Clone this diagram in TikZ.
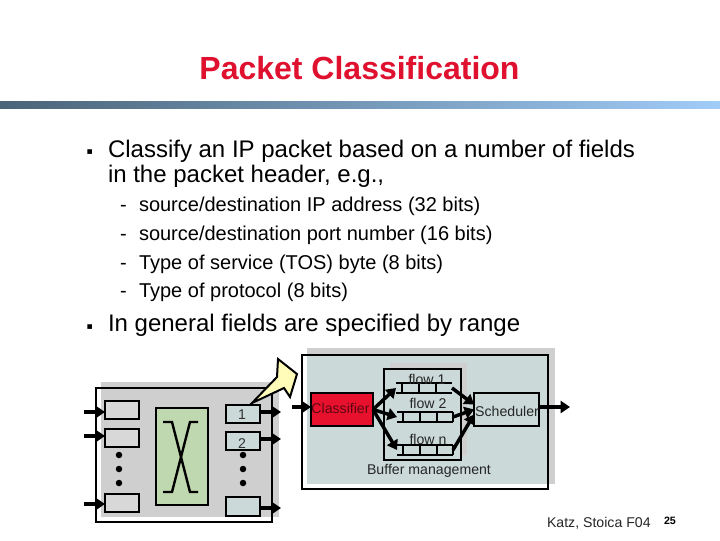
\documentclass[tikz,border=0pt]{standalone}
\usepackage{fontspec}
\setmainfont{Liberation Sans}
\newfontfamily\symfont{DejaVu Sans}
\usetikzlibrary{arrows.meta,calc}
\definecolor{titlered}{HTML}{E0102F}
\definecolor{shadowgray}{HTML}{CFCFCF}
\definecolor{tint}{HTML}{CBD9D9}
\definecolor{swgreen}{HTML}{C0D8B0}
\definecolor{inq}{HTML}{D8D8D8}
\definecolor{clred}{HTML}{E8112D}
\definecolor{barL}{HTML}{4A6478}
\definecolor{barR}{HTML}{A0CCF8}
\def\PX{0.75pt}
\tikzset{
  x=0.75pt,y=-0.75pt,
  txt/.style={anchor=base west,inner sep=0,outer sep=0},
  body/.style={txt,font=\fontsize{18}{18}\selectfont},
  sub/.style={txt,font=\fontsize{15}{15}\selectfont},
  small/.style={inner sep=0,outer sep=0,font=\fontsize{10.6}{10.6}\selectfont,text=black!85},
  bx/.style={draw=black,line width=1.7pt,inner sep=0,outer sep=0},
  qslot/.style={inner sep=0,outer sep=0,minimum width=56*\PX,minimum height=10*\PX},
  qline/.style={draw=black,line width=1.4pt},
  fat/.style={draw=black,line width=2.6pt,-{Triangle[length=7pt,width=9pt]}},
  dot/.style={circle,fill=black,inner sep=0,outer sep=0,minimum size=6.5*\PX},
  xline/.style={draw=black,line width=1.8pt},
  bul/.style={txt,font=\symfont\fontsize{7}{7}\selectfont}
}
\begin{document}
\begin{tikzpicture}
\useasboundingbox (0,0) rectangle (720,540);
\fill[white] (0,0) rectangle (720,540);
% title and bar
\node[inner sep=0,outer sep=0,anchor=base,text=titlered,font=\fontsize{24}{24}\selectfont\bfseries] (title) at (359.5,79) {Packet Classification};
\shade[left color=barL,right color=barR] (0,101) rectangle (720,108);
% bullets
\node[bul] (b1) at (86.5,154) {▪};
\node[bul] (b2) at (86.5,329) {▪};
\node[body] (t1) at (108,157) {Classify an IP packet based on a number of fields};
\node[body] (t2) at (108,182) {in the packet header, e.g.,};
\node[sub] (d1) at (120,211) {-};
\node[sub] (d2) at (120,240) {-};
\node[sub] (d3) at (120,269) {-};
\node[sub] (d4) at (120,297) {-};
\node[sub] (s1) at (139,211) {source/destination IP address (32 bits)};
\node[sub] (s2) at (139,240) {source/destination port number (16 bits)};
\node[sub] (s3) at (139,269) {Type of service (TOS) byte (8 bits)};
\node[sub] (s4) at (139,297) {Type of protocol (8 bits)};
\node[body] (t3) at (108,331) {In general fields are specified by range};
% left router
\fill[shadowgray] (101,382) rectangle (279,517);
\node[bx,minimum width=176*\PX,minimum height=134*\PX] (router) at (184,455) {};
\node[bx,fill=inq,minimum width=34*\PX,minimum height=18*\PX] (i1) at (122,410) {};
\node[bx,fill=inq,minimum width=34*\PX,minimum height=18*\PX] (i2) at (122,438) {};
\node[bx,fill=inq,minimum width=34*\PX,minimum height=18*\PX] (i3) at (122,503) {};
\node[bx,fill=tint,minimum width=34*\PX,minimum height=18*\PX] (o1) at (243,414) {};
\node[bx,fill=tint,minimum width=34*\PX,minimum height=18*\PX] (o2) at (243,441) {};
\node[bx,fill=tint,minimum width=34*\PX,minimum height=19*\PX] (o3) at (243,506.5) {};
\node[small,text=black!80] (l1) at (242,415) {1};
\node[small,text=black!80] (l2) at (242,444) {2};
\node[bx,fill=swgreen,minimum width=52*\PX,minimum height=97*\PX] (sw) at (182,456.5) {};
\draw[xline] (163,422) -- (172,422) -- (190,492) -- (198,492);
\draw[xline] (198,422) -- (190,422) -- (172,492) -- (163,492);
\foreach \n/\y in {a/455,b/469,c/483}{
  \node[dot] (dl\n) at (119,\y) {};
  \node[dot] (dr\n) at (243,\y) {};
}
\coordinate (ia1) at (84,412); \coordinate (ia2) at (84,436); \coordinate (ia3) at (84,504);
\coordinate (oa1) at (281,412); \coordinate (oa2) at (281,439); \coordinate (oa3) at (281,508);
\draw[fat] (ia1) -- (i1.west |- ia1);
\draw[fat] (ia2) -- (i2.west |- ia2);
\draw[fat] (ia3) -- (i3.west |- ia3);
\draw[fat] (o1.east |- oa1) -- (oa1);
\draw[fat] (o2.east |- oa2) -- (oa2);
\draw[fat] (o3.east |- oa3) -- (oa3);
% right line card
\fill[shadowgray] (307,348) rectangle (555,484);
\fill[tint] (307,356) rectangle (547,484);
\node[bx,minimum width=246*\PX,minimum height=134*\PX] (card) at (425,422) {};
\fill[shadowgray] (390,363) rectangle (467,455);
\fill[tint] (390,370) rectangle (460,455);
\node[bx,minimum width=77*\PX,minimum height=91*\PX] (buffer) at (422.5,414.5) {};
\node[bx,fill=clred,minimum width=62*\PX,minimum height=33*\PX] (cl) at (342,409.5) {};
\node[small,text=black!60!clred] (cltext) at (340.5,408) {Classifier};
\node[bx,fill=tint,minimum width=65*\PX,minimum height=33*\PX] (sch) at (506.5,409.5) {};
\node[small] (schtext) at (507,411) {Scheduler};
\node[qslot] (q1) at (424,388) {};
\node[qslot] (q2) at (425,417) {};
\node[qslot] (qn) at (425,450) {};
\foreach \q in {q1,q2,qn}{
  \draw[qline] (\q.north west) -- (\q.north east) (\q.south west) -- (\q.south east);
  \foreach \f in {0.11,0.41,0.72}{
    \draw[qline] ($(\q.north west)!\f!(\q.north east)$) -- ($(\q.south west)!\f!(\q.south east)$);
  }
}
\draw[qline] (q2.north east) -- (q2.south east) (qn.north east) -- (qn.south east);
\node[small] (f1) at (427,379) {flow 1};
\node[small] (f2) at (428,403) {flow 2};
\node[small] (fn) at (428,439) {flow n};
\node[small] (bm) at (429,471) {Buffer management};
\draw[fat] (cl.east) -- (q1.west);
\draw[fat] (cl.east) -- (q2.west);
\draw[fat] (cl.east) -- (qn.west);
\draw[fat] (q1.east) -- ($(sch.west)+(0,-5)$);
\draw[fat] (q2.east) -- (sch.west);
\draw[fat] (qn.east) -- ($(sch.west)+(0,5)$);
\coordinate (inc) at (292,407);
\coordinate (outc) at (570,407);
\draw[fat] (inc) -- (cl.west |- inc);
\draw[fat] (sch.east |- outc) -- (outc);
% callout
\draw[line width=1.5pt,line join=miter,fill=yellow!28] (252,403) -- (277,377) -- (278,359) -- (297,374) -- (290,397) -- (284,388) -- cycle;
% footer
\node[small,anchor=base west] (katz) at (547,527) {Katz, Stoica F04};
\node[inner sep=0,outer sep=0,anchor=base west,font=\fontsize{8}{8}\selectfont\bfseries] (pg) at (664,524) {25};
\end{tikzpicture}
\end{document}
